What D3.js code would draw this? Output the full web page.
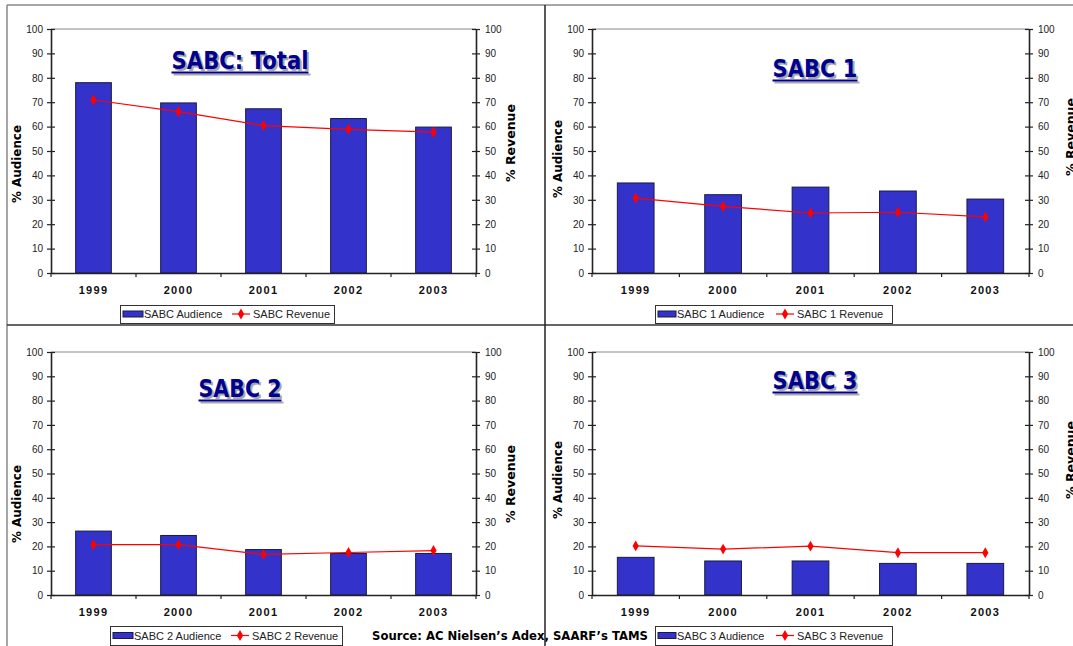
<!DOCTYPE html>
<html>
<head>
<meta charset="utf-8">
<script src="https://cdn.jsdelivr.net/npm/d3@7"></script>
<style>
    html, body { margin: 0; padding: 0; background: #fff; }
    svg { display: block; }
</style>
</head>
<body>
<svg id="chart" width="1073" height="646"></svg>
<script>
/*global d3*/
(function (d3) {
    'use strict';

    // values (percent)
    var years = ['1999', '2000', '2001', '2002', '2003'];
    var yTicks = [0, 10, 20, 30, 40, 50, 60, 70, 80, 90, 100];

    var totalAudience = [78.0, 69.7, 67.3, 63.3, 59.8];
    var totalRevenue = [70.9, 66.1, 60.4, 58.9, 57.7];
    var sabc1Audience = [36.9, 32.1, 35.2, 33.6, 30.3];
    var sabc1Revenue = [30.7, 27.3, 24.6, 24.9, 23.0];
    var sabc2Audience = [26.3, 24.5, 18.7, 17.1, 17.1];
    var sabc2Revenue = [20.7, 20.7, 16.7, 17.5, 18.3];
    var sabc3Audience = [15.5, 14.0, 14.0, 13.0, 13.0];
    var sabc3Revenue = [20.2, 18.9, 20.1, 17.4, 17.4];

    var titles = ['SABC: Total', 'SABC 1', 'SABC 2', 'SABC 3'];
    var audienceNames = ['SABC Audience', 'SABC 1 Audience', 'SABC 2 Audience', 'SABC 3 Audience'];
    var revenueNames = ['SABC Revenue', 'SABC 1 Revenue', 'SABC 2 Revenue', 'SABC 3 Revenue'];
    var sourceText = 'Source:  AC Nielsen\u2019s Adex, SAARF\u2019s TAMS';

    var barFill = '#3333cc',
        lineColor = '#ff0000',
        titleColor = '#000090';

    // where each panel sits on the page
    var panels = [
        {audience: totalAudience, revenue: totalRevenue,
            left: 51, right: 476, top: 29, bottom: 273,
            title: {x: 240, y: 69, len: 137},
            yLab: {lx: 16, ly: 164, rx: 510, ry: 143},
            legend: {x: 120, y: 305, w: 214, h: 18, sw: 20, gap: 88}},
        {audience: sabc1Audience, revenue: sabc1Revenue,
            left: 592, right: 1029, top: 29, bottom: 273,
            title: {x: 815, y: 77, len: 85},
            yLab: {lx: 557, ly: 159, rx: 1070, ry: 137},
            legend: {x: 655, y: 305, w: 237, h: 18, sw: 18, gap: 99}},
        {audience: sabc2Audience, revenue: sabc2Revenue,
            left: 51, right: 476, top: 352, bottom: 595,
            title: {x: 240, y: 397, len: 83},
            yLab: {lx: 16, ly: 504, rx: 510, ry: 484},
            legend: {x: 110, y: 626, w: 232, h: 19, sw: 20, gap: 97}},
        {audience: sabc3Audience, revenue: sabc3Revenue,
            left: 592, right: 1029, top: 352, bottom: 595,
            title: {x: 815, y: 389, len: 85},
            yLab: {lx: 557, ly: 480, rx: 1070, ry: 460},
            legend: {x: 655, y: 626, w: 237, h: 19, sw: 18, gap: 99}}
    ];

    var svg = d3.select('#chart');
    var diamond = d3.symbol().type(d3.symbolDiamond).size(34);

    function drawPanel(p, i) {
        var g = svg.append('g').attr('class', 'panel'),
            x = d3.scaleBand().domain(years).range([p.left, p.right]).padding(0),
            y = d3.scaleLinear().domain([0, 100]).range([p.bottom, p.top]),
            bw = x.bandwidth() * 0.42,
            rows = years.map(function (d, k) {
                return {year: d, a: p.audience[k], r: p.revenue[k]};
            });

        // plot frame top edge
        g.append('line')
            .attr('x1', p.left).attr('x2', p.right)
            .attr('y1', p.top).attr('y2', p.top)
            .attr('stroke', '#8a8a8a').attr('stroke-width', 1.2);

        // bars
        g.selectAll('.bar')
            .data(rows)
          .enter()
            .append('rect')
            .attr('class', 'bar')
            .attr('x', function (d) { return x(d.year) + (x.bandwidth() - bw) / 2; })
            .attr('y', function (d) { return y(d.a); })
            .attr('width', bw)
            .attr('height', function (d) { return y(0) - y(d.a); })
            .attr('fill', barFill)
            .attr('stroke', '#1a1a40')
            .attr('stroke-width', 1);

        // left axis
        var la = g.append('g')
            .attr('transform', 'translate(' + p.left + ',0)')
            .call(d3.axisLeft(y).tickValues(yTicks).tickSize(4).tickSizeOuter(0).tickPadding(4));
        la.selectAll('.tick line').attr('x1', 4);

        // right axis
        var ra = g.append('g')
            .attr('transform', 'translate(' + p.right + ',0)')
            .call(d3.axisRight(y).tickValues(yTicks).tickSize(4).tickSizeOuter(0).tickPadding(5));
        ra.selectAll('.tick line').attr('x1', -4);

        [la, ra].forEach(function (ax) {
            ax.select('.domain').attr('stroke', '#222').attr('stroke-width', 1.6);
            ax.selectAll('.tick line').attr('stroke', '#222').attr('stroke-width', 1.2);
            ax.selectAll('text')
                .attr('fill', '#222')
                .style('font-family', '"Liberation Sans", Arial, sans-serif')
                .style('font-size', '10px');
        });

        // bottom axis: labels at band centres, ticks on band edges
        var ba = g.append('g')
            .attr('transform', 'translate(0,' + p.bottom + ')')
            .call(d3.axisBottom(x).tickSize(0).tickSizeOuter(0).tickPadding(13));
        ba.select('.domain').attr('stroke', '#222').attr('stroke-width', 1.6);
        ba.selectAll('text')
            .attr('fill', '#111')
            .style('font-family', '"Liberation Sans", Arial, sans-serif')
            .style('font-size', '11px')
            .style('font-weight', 'bold')
            .style('letter-spacing', '1.3px');
        var edges = years.map(function (d) { return x(d); }).concat([p.right]);
        g.selectAll('.xtick')
            .data(edges)
          .enter()
            .append('line')
            .attr('x1', function (d) { return d; })
            .attr('x2', function (d) { return d; })
            .attr('y1', p.bottom)
            .attr('y2', p.bottom + 4)
            .attr('stroke', '#222')
            .attr('stroke-width', 1.2);

        // revenue line
        var line = d3.line()
            .x(function (d) { return x(d.year) + x.bandwidth() / 2; })
            .y(function (d) { return y(d.r); });
        g.append('path')
            .datum(rows)
            .attr('d', line)
            .attr('fill', 'none')
            .attr('stroke', lineColor)
            .attr('stroke-width', 1.2);
        g.selectAll('.mk')
            .data(rows)
          .enter()
            .append('path')
            .attr('class', 'mk')
            .attr('d', diamond)
            .attr('transform', function (d) {
                return 'translate(' + (x(d.year) + x.bandwidth() / 2) + ',' + y(d.r) + ')';
            })
            .attr('fill', lineColor);

        // axis titles
        g.append('text')
            .attr('transform', 'translate(' + p.yLab.lx + ',' + p.yLab.ly + ') rotate(-90)')
            .attr('text-anchor', 'middle')
            .attr('dominant-baseline', 'central')
            .attr('textLength', 78)
            .attr('lengthAdjust', 'spacingAndGlyphs')
            .style('font-family', '"DejaVu Sans", Verdana, sans-serif')
            .style('font-size', '13px')
            .style('font-weight', 'bold')
            .text('% Audience');
        g.append('text')
            .attr('transform', 'translate(' + p.yLab.rx + ',' + p.yLab.ry + ') rotate(-90)')
            .attr('text-anchor', 'middle')
            .attr('dominant-baseline', 'central')
            .attr('textLength', 78)
            .attr('lengthAdjust', 'spacingAndGlyphs')
            .style('font-family', '"DejaVu Sans", Verdana, sans-serif')
            .style('font-size', '13px')
            .style('font-weight', 'bold')
            .text('% Revenue');

        // panel title with grey drop shadow and underline
        var t = p.title;
        [[2, 2, '#a8a8a8'], [0, 0, titleColor]].forEach(function (s) {
            g.append('text')
                .attr('x', t.x + s[0])
                .attr('y', t.y + s[1])
                .attr('text-anchor', 'middle')
                .attr('textLength', t.len)
                .attr('lengthAdjust', 'spacingAndGlyphs')
                .attr('fill', s[2])
                .style('font-family', '"DejaVu Sans", Verdana, sans-serif')
                .style('font-size', '25px')
                .style('font-weight', 'bold')
                .text(titles[i]);
            g.append('rect')
                .attr('x', t.x - t.len / 2 + s[0])
                .attr('y', t.y + 2.5 + s[1])
                .attr('width', t.len)
                .attr('height', 2)
                .attr('fill', s[2]);
        });

        // legend
        var L = p.legend,
            lg = g.append('g').attr('transform', 'translate(' + L.x + ',' + L.y + ')'),
            my = L.h / 2;
        lg.append('rect')
            .attr('x', 0.5).attr('y', 0.5)
            .attr('width', L.w).attr('height', L.h)
            .attr('fill', '#fff')
            .attr('stroke', '#333')
            .attr('stroke-width', 1);
        lg.append('rect')
            .attr('x', 3).attr('y', my - 3)
            .attr('width', L.sw).attr('height', 6)
            .attr('fill', barFill)
            .attr('stroke', '#1a1a40');
        lg.append('text')
            .attr('x', L.sw + 4).attr('y', my + 4)
            .style('font-family', '"Liberation Sans", Arial, sans-serif')
            .style('font-size', '11px')
            .attr('fill', '#222')
            .text(audienceNames[i]);
        lg.append('line')
            .attr('x1', L.sw + 4 + L.gap).attr('x2', L.sw + 4 + L.gap + 18)
            .attr('y1', my).attr('y2', my)
            .attr('stroke', lineColor)
            .attr('stroke-width', 1.2);
        lg.append('path')
            .attr('d', diamond)
            .attr('transform', 'translate(' + (L.sw + 4 + L.gap + 9) + ',' + my + ')')
            .attr('fill', lineColor);
        lg.append('text')
            .attr('x', L.sw + 4 + L.gap + 21).attr('y', my + 4)
            .style('font-family', '"Liberation Sans", Arial, sans-serif')
            .style('font-size', '11px')
            .attr('fill', '#222')
            .text(revenueNames[i]);
    }

    panels.forEach(drawPanel);

    svg.append('text')
        .attr('x', 372)
        .attr('y', 640)
        .attr('textLength', 276)
        .attr('lengthAdjust', 'spacingAndGlyphs')
        .style('font-family', '"DejaVu Sans", Verdana, sans-serif')
        .style('font-size', '13px')
        .style('font-weight', 'bold')
        .text(sourceText);

    // page frame and dividers
    svg.append('line')
        .attr('x1', 7).attr('x2', 1073).attr('y1', 5).attr('y2', 5)
        .attr('stroke', '#888').attr('stroke-width', 1.5);
    svg.append('line')
        .attr('x1', 7).attr('x2', 7).attr('y1', 5).attr('y2', 646)
        .attr('stroke', '#888').attr('stroke-width', 1.5);
    svg.append('line')
        .attr('x1', 7).attr('x2', 1073).attr('y1', 325).attr('y2', 325)
        .attr('stroke', '#333').attr('stroke-width', 1.5);
    svg.append('line')
        .attr('x1', 545).attr('x2', 545).attr('y1', 5).attr('y2', 646)
        .attr('stroke', '#222').attr('stroke-width', 1.5);

}(window.d3));
</script>
</body>
</html>
